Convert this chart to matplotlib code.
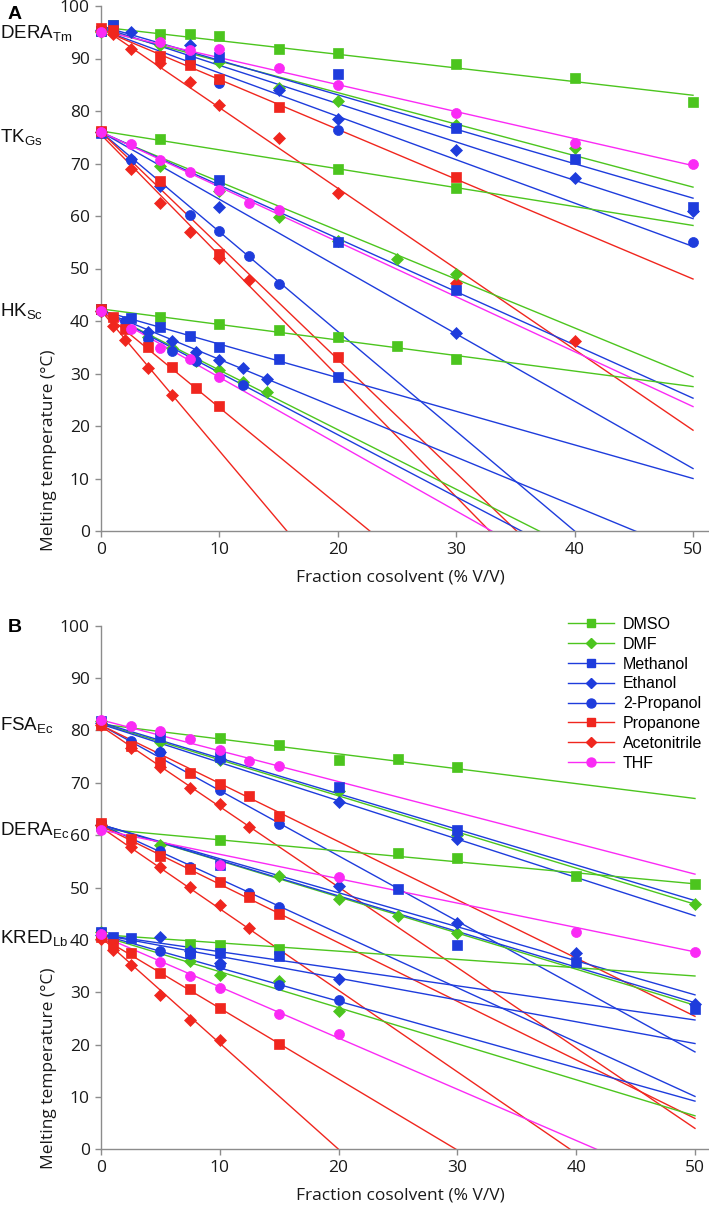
import matplotlib
matplotlib.use("Agg")
import matplotlib.pyplot as plt
import numpy as np
from matplotlib.lines import Line2D

plt.rcParams["mathtext.default"] = "regular"

SOLVENTS = ["DMSO", "DMF", "Methanol", "Ethanol", "2-Propanol", "Propanone", "Acetonitrile", "THF"]

# ---- panel A -------------------------------------------------------------
DERA_TM_X = [
    [0, 1, 5, 7.5, 10, 15, 20, 30, 40, 50],
    [0, 5, 10, 15, 20, 30, 40],
    [0, 1, 7.5, 10, 20, 30, 40, 50],
    [0, 2.5, 7.5, 15, 20, 30, 40, 50],
    [0, 10, 20, 50],
    [0, 1, 5, 7.5, 10, 15, 30],
    [0, 1, 2.5, 5, 7.5, 10, 15, 20, 30, 40],
    [0, 5, 7.5, 10, 15, 20, 30, 40, 50],
]
DERA_TM_Y = [
    [95.3, 96.3, 94.6, 94.6, 94.3, 91.8, 91.0, 89.0, 86.2, 81.7],
    [95.0, 92.6, 89.4, 84.3, 82.0, 77.4, 72.9],
    [95.2, 96.3, 89.9, 90.2, 87.1, 76.7, 70.9, 61.7],
    [95.5, 95.1, 92.6, 84.0, 78.5, 72.6, 67.2, 61.0],
    [95.3, 85.3, 76.4, 55.1],
    [95.8, 95.5, 90.4, 88.7, 86.1, 80.7, 67.4],
    [95.3, 94.6, 91.8, 89.1, 85.5, 81.1, 74.8, 64.4, 47.2, 36.1],
    [95.0, 93.1, 91.6, 91.9, 88.1, 85.0, 79.7, 74.0, 70.0],
]
DERA_TM_B = [96.0, 95.5, 96.2, 96.0, 95.5, 95.5, 96.0, 95.3]
DERA_TM_M = [-0.26, -0.60, -0.656, -0.73, -0.826, -0.95, -1.536, -0.514]

TK_GS_X = [
    [0, 5, 20, 30],
    [0, 5, 10, 15, 20, 25, 30],
    [0, 10, 20, 30],
    [0, 2.5, 5, 10, 30],
    [0, 2.5, 7.5, 10, 12.5, 15],
    [0, 5, 10, 20],
    [0, 2.5, 5, 7.5, 10, 12.5],
    [0, 2.5, 5, 7.5, 10, 12.5, 15],
]
TK_GS_Y = [
    [76.0, 74.7, 68.9, 65.3],
    [76.0, 69.5, 64.7, 59.9, 55.2, 51.9, 48.9],
    [75.8, 66.9, 55.0, 45.9],
    [76.0, 70.9, 65.7, 61.8, 37.7],
    [76.0, 70.6, 60.2, 57.1, 52.4, 47.1],
    [76.1, 66.6, 52.7, 33.2],
    [76.0, 69.0, 62.5, 56.9, 52.0, 47.8],
    [76.0, 73.8, 70.7, 68.4, 64.9, 62.4, 61.2],
]
TK_GS_B = [76.2, 75.8, 76.0, 76.0, 76.0, 76.0, 75.5, 76.0]
TK_GS_M = [-0.36, -0.928, -1.014, -1.282, -1.90, -2.165, -2.30, -1.046]

HK_SC_X = [
    [0, 5, 10, 15, 20, 25, 30],
    [0, 4, 6, 8, 10, 12, 14],
    [0, 2.5, 5, 7.5, 10, 15, 20],
    [0, 4, 6, 8, 10, 12, 14],
    [0, 2, 4, 6, 8, 12],
    [0, 1, 2, 4, 6, 8, 10],
    [0, 1, 2, 4, 6],
    [0, 2.5, 5, 7.5, 10],
]
HK_SC_Y = [
    [42.2, 40.8, 39.4, 38.3, 36.9, 35.3, 32.7],
    [42.0, 36.9, 34.8, 32.3, 30.7, 28.4, 26.4],
    [42.2, 40.5, 38.8, 37.2, 35.1, 32.7, 29.4],
    [42.0, 38.0, 36.2, 34.1, 32.6, 31.1, 29.0],
    [42.0, 40.0, 36.5, 34.3, 32.3, 27.8],
    [42.3, 40.7, 38.4, 35.1, 31.2, 27.2, 23.8],
    [42.0, 39.0, 36.4, 31.1, 26.0],
    [42.0, 38.4, 34.8, 32.7, 29.3],
]
HK_SC_B = [42.3, 42.0, 42.0, 42.0, 42.0, 42.0, 42.0, 42.0]
HK_SC_M = [-0.296, -1.135, -0.64, -0.931, -1.183, -1.85, -2.675, -1.273]

# ---- panel B -------------------------------------------------------------
FSA_EC_X = [
    [0, 10, 15, 20, 25, 30],
    [0, 5, 10, 20, 30, 50],
    [0, 5, 10, 20, 30],
    [0, 5, 10, 20, 30],
    [0, 2.5, 5, 10, 15],
    [0, 2.5, 5, 7.5, 10, 12.5, 15],
    [0, 2.5, 5, 7.5, 10, 12.5],
    [0, 2.5, 5, 7.5, 10, 12.5, 15],
]
FSA_EC_Y = [
    [81.5, 78.5, 77.2, 74.3, 74.5, 73.0],
    [81.8, 77.8, 74.3, 68.5, 60.0, 46.8],
    [81.8, 78.7, 74.9, 69.1, 60.9],
    [81.5, 75.9, 74.5, 66.4, 59.2],
    [81.5, 77.9, 75.9, 68.7, 62.2],
    [81.0, 77.0, 74.0, 71.9, 69.8, 67.5, 63.6],
    [81.0, 76.6, 73.1, 69.0, 66.0, 61.6],
    [82.0, 80.8, 79.9, 78.3, 76.3, 74.2, 73.2],
]
FSA_EC_B = [81.2, 81.3, 81.5, 81.2, 81.0, 81.0, 80.8, 82.0]
FSA_EC_M = [-0.284, -0.69, -0.68, -0.732, -1.248, -1.112, -1.536, -0.589]

DERA_EC_X = [
    [0, 10, 25, 30, 40, 50],
    [0, 5, 15, 20, 25, 30],
    [0, 10, 25, 30, 40, 50],
    [0, 20, 30, 40, 50],
    [0, 5, 7.5, 12.5, 15],
    [0, 2.5, 5, 7.5, 10, 12.5, 15],
    [0, 2.5, 5, 7.5, 10, 12.5],
    [0, 10, 20, 40, 50],
]
DERA_EC_Y = [
    [61.8, 59.1, 56.5, 55.6, 52.2, 50.7],
    [62.0, 58.1, 52.2, 47.8, 44.6, 41.4],
    [62.0, 54.3, 49.7, 39.0, 35.8, 26.7],
    [62.0, 50.2, 43.2, 37.4, 27.7],
    [62.0, 57.0, 53.9, 48.9, 46.3],
    [62.3, 59.2, 56.0, 53.5, 51.1, 48.2, 44.9],
    [62.0, 57.8, 53.9, 50.1, 46.7, 42.2],
    [61.0, 54.3, 52.0, 41.5, 37.7],
]
DERA_EC_B = [61.2, 62.0, 62.0, 62.0, 62.0, 61.8, 61.5, 61.0]
DERA_EC_M = [-0.21, -0.69, -0.68, -0.65, -1.038, -1.118, -1.557, -0.466]

KRED_LB_X = [
    [0, 7.5, 10, 15],
    [0, 7.5, 10, 15, 20],
    [0, 1, 2.5, 7.5, 10, 15],
    [0, 5, 7.5, 10, 20],
    [0, 5, 7.5, 10, 15, 20],
    [0, 1, 2.5, 5, 7.5, 10, 15],
    [0, 1, 2.5, 5, 7.5, 10],
    [0, 5, 7.5, 10, 15, 20],
]
KRED_LB_Y = [
    [41.3, 39.3, 39.1, 38.2],
    [41.5, 35.9, 33.3, 32.2, 26.5],
    [41.5, 40.5, 40.4, 37.5, 37.5, 36.9],
    [41.0, 40.6, 37.8, 35.5, 32.5],
    [41.0, 37.9, 37.3, 35.2, 31.4, 28.5],
    [40.5, 39.2, 37.5, 33.6, 30.7, 26.9, 20.1],
    [40.2, 38.1, 35.2, 29.5, 24.7, 20.9],
    [41.2, 35.8, 33.1, 30.9, 25.9, 22.0],
]
KRED_LB_B = [41.0, 40.8, 41.0, 41.0, 41.0, 40.5, 40.5, 40.8]
KRED_LB_M = [-0.158, -0.688, -0.326, -0.416, -0.636, -1.355, -2.025, -0.978]

FIT_RANGE = np.array([0.0, 50.0])

GREEN = "#4cc51e"
BLUE = "#1e3cdc"
RED = "#f0261e"
PINK = "#fa2af5"
STYLE = {
    "DMSO": (GREEN, "s", 6.6),
    "DMF": (GREEN, "D", 5.7),
    "Methanol": (BLUE, "s", 6.6),
    "Ethanol": (BLUE, "D", 5.7),
    "2-Propanol": (BLUE, "o", 7.2),
    "Propanone": (RED, "s", 6.6),
    "Acetonitrile": (RED, "D", 5.7),
    "THF": (PINK, "o", 7.2),
}

W, H = 709, 1206
fig = plt.figure(figsize=(W / 100, H / 100), dpi=100)


def add_axes_px(left, right, top, bottom):
    return fig.add_axes([left / W, 1 - bottom / H, (right - left) / W, (bottom - top) / H])


def draw_protein(ax, xs, ys, b, m):
    for i, solvent in enumerate(SOLVENTS):
        color, marker, ms = STYLE[solvent]
        ax.plot(FIT_RANGE, b[i] + m[i] * FIT_RANGE, color=color, lw=1.0, zorder=2)
        ax.plot(xs[i], ys[i], ls="none", marker=marker, ms=ms, color=color,
                mec=color, mew=0.5, zorder=3, clip_on=False)


def style_axes(ax, xmax):
    ax.set_xlim(0, xmax)
    ax.set_ylim(0, 100)
    ax.set_xticks(range(0, 51, 10))
    ax.set_yticks(range(0, 101, 10))
    for side in ("top", "right"):
        ax.spines[side].set_visible(False)
    for side in ("left", "bottom"):
        ax.spines[side].set_color("#8c8c8c")
        ax.spines[side].set_linewidth(1.0)
    ax.tick_params(direction="out", length=4, width=1.0, color="#8c8c8c",
                   labelsize=12.5, labelcolor="#1a1a1a", pad=4)
    for lab in ax.get_xticklabels() + ax.get_yticklabels():
        lab.set_fontfamily("Open Sans")


ax_a = add_axes_px(101, 709, 6, 531)
ax_b = add_axes_px(101, 709, 625.7, 1149.3)

draw_protein(ax_a, DERA_TM_X, DERA_TM_Y, DERA_TM_B, DERA_TM_M)
draw_protein(ax_a, TK_GS_X, TK_GS_Y, TK_GS_B, TK_GS_M)
draw_protein(ax_a, HK_SC_X, HK_SC_Y, HK_SC_B, HK_SC_M)
draw_protein(ax_b, FSA_EC_X, FSA_EC_Y, FSA_EC_B, FSA_EC_M)
draw_protein(ax_b, DERA_EC_X, DERA_EC_Y, DERA_EC_B, DERA_EC_M)
draw_protein(ax_b, KRED_LB_X, KRED_LB_Y, KRED_LB_B, KRED_LB_M)

style_axes(ax_a, 51.35)
style_axes(ax_b, 51.18)

# protein names at the left edge (baseline positions in pixels)
labels = [
    ("DERA$_{Tm}$", 38), ("TK$_{Gs}$", 142), ("HK$_{Sc}$", 316),
    ("FSA$_{Ec}$", 730), ("DERA$_{Ec}$", 835), ("KRED$_{Lb}$", 943),
]
for text, base in labels:
    fig.text(0.5 / W, 1 - base / H, text, ha="left", va="baseline",
             fontsize=13.5, family="Liberation Sans", color="#111111")

fig.text(8 / W, 1 - 19 / H, "A", fontsize=14, fontweight="bold",
         family="Liberation Sans", va="baseline")
fig.text(8 / W, 1 - 632 / H, "B", fontsize=14, fontweight="bold",
         family="Liberation Sans", va="baseline")

for cy in (450, 1068):
    fig.text(49 / W, 1 - cy / H, "Melting temperature (°C)", rotation=90,
             ha="center", va="center", fontsize=12.5, family="Open Sans", color="#1a1a1a")
for cy in (577, 1195):
    fig.text(400 / W, 1 - cy / H, "Fraction cosolvent (% V/V)", ha="center", va="center",
             fontsize=12.5, family="Open Sans", color="#1a1a1a")

handles = [
    Line2D([], [], color=STYLE[s][0], marker=STYLE[s][1], ms=STYLE[s][2] * 0.9, lw=1.0,
           mec=STYLE[s][0])
    for s in SOLVENTS
]
leg = ax_b.legend(handles, SOLVENTS, loc="upper left",
                  bbox_to_anchor=(568 / W, 1 - 617 / H), bbox_transform=fig.transFigure,
                  frameon=False, prop={"family": "Liberation Sans", "size": 11.5},
                  handlelength=2.9, handletextpad=0.55, labelspacing=0.3,
                  borderaxespad=0, borderpad=0)

fig.savefig("out.png", dpi=100)
